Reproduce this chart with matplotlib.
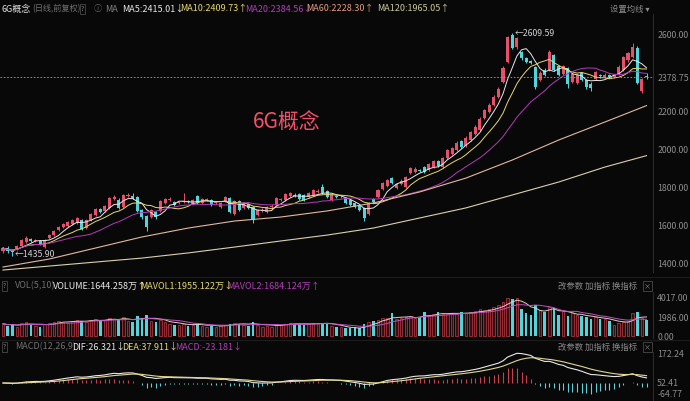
import numpy as np
import pandas as pd
import matplotlib
matplotlib.use('Agg')
import matplotlib.pyplot as plt

plt.rcParams['font.family'] = ['Noto Sans CJK SC', 'DejaVu Sans']

# ---- data (daily candles) ----
opens = [1463, 1479, 1468, 1474, 1489, 1511, 1526, 1518, 1516, 1484,
         1532, 1547, 1574, 1589, 1595, 1605, 1611, 1626, 1584, 1626,
         1653, 1684, 1674, 1690, 1737, 1732, 1695, 1753, 1753, 1747,
         1679, 1647, 1642, 1668, 1674, 1716, 1732, 1721, 1716, 1721,
         1726, 1711, 1753, 1716, 1732, 1732, 1716, 1695, 1726, 1742,
         1658, 1726, 1690, 1711, 1695, 1653, 1674, 1668, 1695, 1705,
         1732, 1732, 1753, 1758, 1763, 1758, 1747, 1758, 1774, 1800,
         1779, 1732, 1753, 1747, 1742, 1732, 1716, 1705, 1690, 1658,
         1737, 1747, 1789, 1805, 1847, 1795, 1816, 1800, 1874, 1879,
         1889, 1905, 1889, 1905, 1937, 1905, 1953, 1974, 1995, 2042,
         2016, 2047, 2079, 2100, 2163, 2195, 2232, 2274, 2353, 2458,
         2600, 2537, 2511, 2479, 2463, 2432, 2363, 2416, 2416, 2495,
         2437, 2395, 2426, 2353, 2347, 2400, 2363, 2342, 2368, 2389,
         2379, 2389, 2379, 2395, 2416, 2468, 2484, 2532, 2305, 2384]
closes = [1479, 1463, 1458, 1489, 1521, 1532, 1516, 1521, 1500, 1521,
          1547, 1568, 1589, 1605, 1616, 1626, 1637, 1579, 1626, 1658,
          1684, 1668, 1700, 1742, 1747, 1690, 1758, 1758, 1742, 1674,
          1642, 1589, 1679, 1642, 1726, 1737, 1737, 1705, 1721, 1726,
          1721, 1732, 1716, 1737, 1737, 1705, 1721, 1716, 1747, 1668,
          1726, 1679, 1716, 1690, 1626, 1679, 1679, 1695, 1700, 1742,
          1737, 1763, 1768, 1755, 1737, 1732, 1768, 1784, 1779, 1768,
          1747, 1758, 1747, 1750, 1716, 1705, 1695, 1679, 1637, 1716,
          1721, 1784, 1821, 1837, 1821, 1816, 1832, 1853, 1900, 1895,
          1884, 1879, 1921, 1937, 1911, 1953, 1995, 2005, 2032, 2011,
          2058, 2089, 2116, 2158, 2205, 2232, 2274, 2316, 2426, 2589,
          2532, 2584, 2479, 2458, 2453, 2326, 2400, 2389, 2511, 2416,
          2389, 2437, 2342, 2395, 2389, 2363, 2326, 2321, 2405, 2384,
          2389, 2379, 2389, 2432, 2484, 2505, 2537, 2347, 2368, 2378.75]
highs = [1486, 1488, 1474, 1494, 1527, 1540, 1534, 1528, 1522, 1526,
         1553, 1574, 1595, 1611, 1622, 1632, 1644, 1632, 1631, 1664,
         1690, 1692, 1706, 1750, 1760, 1740, 1765, 1768, 1766, 1752,
         1684, 1652, 1686, 1674, 1732, 1744, 1745, 1728, 1728, 1768,
         1734, 1738, 1760, 1744, 1744, 1738, 1728, 1722, 1754, 1748,
         1732, 1732, 1722, 1716, 1700, 1686, 1688, 1702, 1708, 1748,
         1744, 1770, 1776, 1766, 1770, 1764, 1774, 1790, 1788, 1816,
         1785, 1764, 1760, 1758, 1748, 1738, 1722, 1711, 1696, 1722,
         1744, 1790, 1828, 1844, 1853, 1822, 1840, 1860, 1907, 1903,
         1896, 1912, 1928, 1944, 1944, 1960, 2002, 2012, 2040, 2050,
         2066, 2096, 2124, 2166, 2212, 2240, 2282, 2324, 2435, 2596,
         2609.59, 2592, 2518, 2486, 2470, 2438, 2408, 2424, 2521, 2502,
         2444, 2444, 2432, 2402, 2396, 2407, 2370, 2350, 2412, 2396,
         2398, 2396, 2396, 2440, 2492, 2512, 2558, 2540, 2374, 2400]
lows = [1455, 1452, 1435.9, 1468, 1484, 1505, 1510, 1512, 1494, 1478,
        1526, 1541, 1568, 1584, 1589, 1600, 1605, 1572, 1578, 1620,
        1647, 1662, 1668, 1684, 1730, 1684, 1690, 1746, 1736, 1666,
        1632, 1568, 1636, 1634, 1668, 1710, 1726, 1698, 1710, 1716,
        1714, 1706, 1710, 1710, 1726, 1699, 1710, 1690, 1720, 1662,
        1652, 1672, 1684, 1683, 1611, 1646, 1668, 1662, 1688, 1700,
        1726, 1726, 1746, 1748, 1730, 1726, 1740, 1752, 1768, 1762,
        1740, 1726, 1740, 1740, 1710, 1699, 1688, 1672, 1621, 1652,
        1714, 1740, 1782, 1798, 1814, 1788, 1810, 1795, 1866, 1872,
        1877, 1872, 1882, 1898, 1904, 1898, 1946, 1966, 1988, 2004,
        2010, 2040, 2072, 2094, 2156, 2188, 2225, 2268, 2345, 2450,
        2525, 2528, 2470, 2450, 2446, 2316, 2356, 2382, 2410, 2408,
        2382, 2388, 2321, 2346, 2340, 2356, 2318, 2305, 2362, 2376,
        2372, 2372, 2372, 2388, 2410, 2460, 2478, 2340, 2295, 2370]
volume = [1300, 1100, 1200, 1000, 1400, 1500, 1200, 1100, 1000, 1300,
          1400, 1500, 1600, 1500, 1400, 1600, 1700, 1600, 1500, 1700,
          1800, 1600, 1700, 1900, 1800, 1700, 2000, 1600, 1500, 2100,
          1900, 2200, 1600, 1500, 1700, 1500, 1300, 1200, 1200, 1300,
          1100, 1200, 1300, 1100, 1000, 1100, 1000, 1100, 1200, 1300,
          1400, 1300, 1200, 1100, 1500, 1200, 1000, 1100, 1000, 1300,
          1200, 1300, 1400, 1200, 1300, 1200, 1300, 1400, 1300, 1400,
          1300, 1100, 1000, 900, 800, 800, 900, 800, 1300, 1500,
          1600, 1700, 1900, 1900, 2400, 1800, 1900, 2000, 2100, 1900,
          2000, 2500, 2200, 2300, 2500, 2300, 2400, 2400, 2300, 2500,
          2400, 2500, 2600, 2800, 2700, 2800, 3000, 3300, 3600, 4000,
          3900, 4017, 2800, 2400, 2200, 3300, 2700, 2500, 3000, 2900,
          2200, 2600, 2100, 2400, 2200, 2100, 2000, 1800, 2000, 1800,
          1800, 1600, 1200, 1400, 1500, 1600, 2400, 2500, 1900, 1644.258]

# long moving averages read at every 10th candle
ma_long_idx = [0, 10, 20, 30, 40, 50, 60, 70, 80, 90, 100, 110, 120, 130, 139]
ma60 = [1379, 1421, 1479, 1537, 1584, 1621, 1642, 1674, 1716, 1774,
        1847, 1942, 2047, 2142, 2228.30]
ma120 = [1363, 1384, 1405, 1426, 1453, 1484, 1516, 1547, 1584, 1637,
         1690, 1758, 1826, 1905, 1965.05]

price_ticks = [1400, 1600, 1800, 2000, 2200, 2378.75, 2600]
vol_ticks = [0, 1986, 4017]

# ---- derived series ----
n = len(closes)
idx = np.arange(n)
o = np.array(opens, float)
c = np.array(closes, float)
h = np.array(highs, float)
l = np.array(lows, float)
s = pd.Series(c)
ma5 = s.rolling(5, min_periods=1).mean()
ma10 = s.rolling(10, min_periods=1).mean()
ma20 = s.rolling(20, min_periods=1).mean()
v = pd.Series(volume)
mavol1 = v.rolling(5, min_periods=1).mean()
mavol2 = v.rolling(10, min_periods=1).mean()
dif = s.ewm(span=12, adjust=False).mean() - s.ewm(span=26, adjust=False).mean()
dea = dif.ewm(span=9, adjust=False).mean()
hist = 2 * (dif - dea)

UP = '#e8506a'
DOWN = '#4fd6dc'
BG = '#080808'
GRAY = '#8e8e8e'

W, H = 690, 401
fig = plt.figure(figsize=(W / 100, H / 100), dpi=100, facecolor=BG)

def px_axes(x0, y0, x1, y1):
    return fig.add_axes([x0 / W, 1 - y1 / H, (x1 - x0) / W, (y1 - y0) / H])

xlim = (-0.65, 140.4)
up = c >= o

# ---- main price panel ----
ax = px_axes(0, 14, 653, 272)
ax.set_facecolor(BG)
ax.set_xlim(*xlim)
ax.set_ylim(1352.7, 2710.5)
ax.vlines(idx[up], l[up], h[up], color=UP, lw=0.7)
ax.vlines(idx[~up], l[~up], h[~up], color=DOWN, lw=0.7)
body_lo = np.minimum(o, c)
body_h = np.maximum(np.abs(c - o), 2)
ax.bar(idx[up], body_h[up], bottom=body_lo[up], width=0.66, color=UP, lw=0)
ax.bar(idx[~up], body_h[~up], bottom=body_lo[~up], width=0.66, color=DOWN, lw=0)
ax.plot(idx, ma5, color='#e8e8e8', lw=0.7)
ax.plot(idx, ma10, color='#e6d86a', lw=0.7)
ax.plot(idx, ma20, color='#b23cb8', lw=0.7)
ax.plot(ma_long_idx, ma60, color='#e2b8a0', lw=0.8)
ax.plot(ma_long_idx, ma120, color='#d8d0b0', lw=0.8)
ax.axhline(closes[-1], color='#a0a0a0', lw=0.6, ls=(0, (2, 2)))

imax = int(np.argmax(h))
ax.text(imax + 0.6, h[imax], '\u2190%.2f' % h[imax], color='#d0d0d0',
        fontsize=6.3, va='center', ha='left')
imin = int(np.argmin(l))
ax.text(imin + 0.6, l[imin] + 10, '\u2190%.2f' % l[imin], color='#d0d0d0',
        fontsize=6.3, va='center', ha='left')
ax.text(61.3, 2142, '6G概念', color='#f0506a', fontsize=15, ha='center',
        va='center')

ax.yaxis.tick_right()
ax.set_yticks(price_ticks)
ax.set_yticklabels(['%.2f' % t for t in price_ticks], fontsize=6.3, color=GRAY)
ax.tick_params(axis='y', length=0, pad=3)
ax.set_xticks([])
for sp in ['top', 'left', 'bottom']:
    ax.spines[sp].set_visible(False)
ax.spines['right'].set_color('#2a2a2a')
ax.spines['right'].set_linewidth(0.8)

# ---- volume panel ----
axv = px_axes(0, 292, 653, 338)
axv.set_facecolor(BG)
axv.set_xlim(*xlim)
axv.set_ylim(-201, 4620)
vv = np.array(volume, float)
axv.bar(idx[up], vv[up], width=0.55, facecolor='#3a0d12', edgecolor='#a8323c', lw=0.6)
axv.bar(idx[~up], vv[~up], width=0.55, color=DOWN, lw=0)
axv.plot(idx, mavol1, color='#e8c8c8', lw=0.7)
axv.plot(idx, mavol2, color='#c050c0', lw=0.7)
axv.yaxis.tick_right()
axv.set_yticks(vol_ticks)
axv.set_yticklabels(['%.2f' % t for t in vol_ticks], fontsize=6.3, color=GRAY)
axv.tick_params(axis='y', length=0, pad=3)
axv.set_xticks([])
for sp in ['top', 'left', 'bottom']:
    axv.spines[sp].set_visible(False)
axv.spines['right'].set_color('#2a2a2a')

# ---- MACD panel ----
axm = px_axes(0, 352, 653, 401)
axm.set_facecolor(BG)
axm.set_xlim(*xlim)
axm.set_ylim(-107, 184)
hv = hist.values
axm.vlines(idx[hv >= 0], 0, hv[hv >= 0], color='#c8404e', lw=0.8)
axm.vlines(idx[hv < 0], 0, hv[hv < 0], color='#60d0d8', lw=0.8)
axm.plot(idx, dif, color='#e8e8e8', lw=0.8)
axm.plot(idx, dea, color='#e0d890', lw=0.8)
axm.yaxis.tick_right()
axm.set_yticks([172.24, 4, -64.77])
axm.set_yticklabels(['172.24', '52.41', '-64.77'], fontsize=6.3, color=GRAY)
axm.tick_params(axis='y', length=0, pad=3)
axm.set_xticks([])
for sp in ['top', 'left', 'bottom']:
    axm.spines[sp].set_visible(False)
axm.spines['right'].set_color('#2a2a2a')

# ---- separators and header texts ----
for yy in [277, 340]:
    fig.add_artist(plt.Line2D([0, 1], [1 - yy / H] * 2, color='#1c1c1c', lw=0.8))

def t(x, y, s, col, fs=6.5, **kw):
    fig.text(x / W, 1 - y / H, s, color=col, fontsize=fs, va='center', **kw)

box = dict(boxstyle='square,pad=0.15', fc='none', ec='#555555', lw=0.5)

t(2, 9, '6G概念', '#e0e0e0')
t(32, 9, '(日线,前复权)', '#707070', fs=5.9)
t(81, 9, '?', '#808080', fs=5, bbox=box)
t(94, 9, '\u24d8', '#606060', fs=6)
t(105, 9, 'MA', '#808080')
t(122, 9, 'MA5:2415.01\u2193', '#e8e8e8')
t(180, 9, 'MA10:2409.73\u2191', '#e6d86a')
t(245, 9, 'MA20:2384.56\u2193', '#b23cb8')
t(306, 9, 'MA60:2228.30\u2191', '#e09a80')
t(377, 9, 'MA120:1965.05\u2191', '#c8c898')
t(610, 9, '设置均线 \u25be', '#8a8a8a', fs=6)

t(3, 286, '?', '#808080', fs=5, bbox=box)
t(15, 286, 'VOL(5,10)', '#707070')
t(53, 286, 'VOLUME:1644.258万\u2191', '#e8e8e8')
t(140, 286, 'MAVOL1:1955.122万\u2193', '#e6d86a')
t(227, 286, 'MAVOL2:1684.124万\u2191', '#b23cb8')
t(558, 286, '改参数 加指标 换指标', '#8a8a8a', fs=6)
t(644, 286, '\u00d7', '#8a8a8a', fs=5, bbox=box)

t(3, 347, '?', '#808080', fs=5, bbox=box)
t(15, 347, 'MACD(12,26,9)', '#707070')
t(72, 347, 'DIF:26.321\u2193', '#e8e8e8')
t(122, 347, 'DEA:37.911\u2193', '#e6d86a')
t(175, 347, 'MACD:-23.181\u2193', '#b23cb8')
t(558, 347, '改参数 加指标 换指标', '#8a8a8a', fs=6)
t(644, 347, '\u00d7', '#8a8a8a', fs=5, bbox=box)

fig.savefig('out.png', dpi=100, facecolor=BG)
